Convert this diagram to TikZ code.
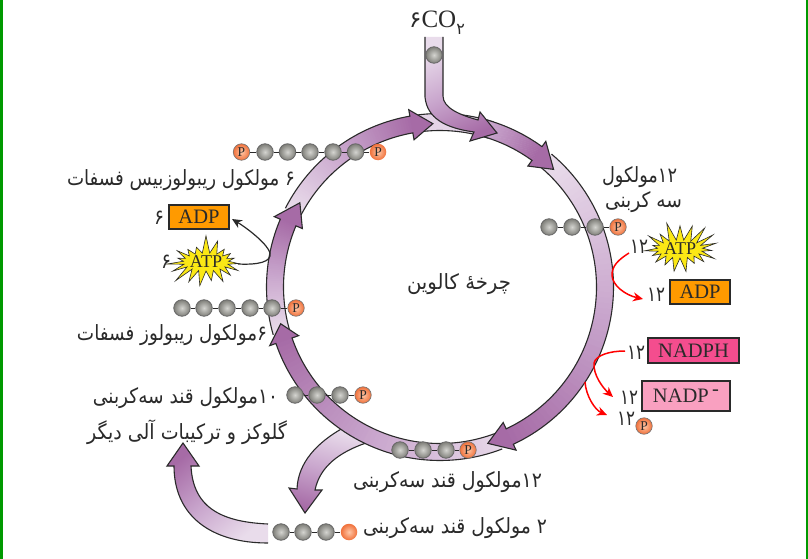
\documentclass[tikz,border=0pt]{standalone}
\usepackage{fontspec}
\usepackage{graphicx}
\usetikzlibrary{arrows.meta,shapes.symbols}
\setmainfont{Liberation Serif}
\TeXXeTstate=1
\newfontfamily\arabicfont[Script=Arabic]{DejaVu Sans}
\definecolor{lightv}{HTML}{E9DCEB}
\definecolor{midv}{HTML}{C9A6CD}
\definecolor{darkv}{HTML}{A66BA6}
\definecolor{ink}{HTML}{2A2A2A}
\definecolor{txt}{HTML}{2A2A2A}
\definecolor{pinka}{HTML}{F44D8E}
\definecolor{pinkb}{HTML}{F9A0C0}
\definecolor{orng}{HTML}{FF9A00}
\definecolor{yel}{HTML}{FBE815}
\definecolor{ballin}{HTML}{D4D4D0}
\definecolor{ballout}{HTML}{7E7E78}
\definecolor{pin}{HTML}{FFC8A8}
\definecolor{pout}{HTML}{F0703A}
\tikzset{
  ol/.style={draw=ink,line width=1.1pt,line join=miter},
  ballg/.style={circle,minimum size=16.5pt,inner sep=0pt,draw=black!60,line width=.8pt,inner color=ballin,outer color=ballout},
  pball/.style={circle,minimum size=16.5pt,inner sep=0pt,draw=black!55,line width=.6pt,inner color=pin,outer color=pout,font=\fontsize{13.5}{13.5}\selectfont,text=txt},
  pballb/.style={pball,draw=none},
  bond/.style={draw=ink,line width=.7pt},
  lab/.style={inner sep=0pt,text=txt},
  boxed/.style={draw=ink,line width=1.1pt,minimum height=24pt,inner sep=0pt,text=txt,font=\fontsize{20.5}{20.5}\selectfont},
  burst/.style={starburst,starburst points=19,starburst point height=19pt,draw=ink,line width=.6pt,fill=yel,inner sep=0pt,minimum width=60pt,minimum height=56pt,text=txt,font=\fontsize{18}{18}\selectfont},
  redarr/.style={draw=red,line width=1.5pt,-{Stealth[length=10pt,width=9pt]}},
  blackarr/.style={draw=ink,line width=1.2pt,-{Stealth[length=10pt,width=9pt]}},
}
\newcommand\fa[2]{\resizebox{#1pt}{\height}{\arabicfont\fontsize{21}{21}\selectfont #2}}
\newcommand\fb[2]{\resizebox{#1pt}{\height}{\arabicfont\fontsize{21}{21}\selectfont #2}}
\newcommand\ringarrow[4]{%
  \foreach \i in {0,...,59}{%
    \pgfmathsetmacro\aa{#1+(#2-#1)*\i/60}%
    \pgfmathsetmacro\ab{#1+(#2-#1)*(\i+1.4)/60}%
    \pgfmathsetmacro\tt{#4+(1-#4)*\i/60}%
    \pgfmathtruncatemacro\pa{min(100,\tt*200)}%
    \pgfmathtruncatemacro\pb{max(0,\tt*200-100)}%
    \ifnum\pb>0 \fill[darkv!\pb!midv] (\aa:173.5)--(\ab:173.5)--(\ab:156.5)--(\aa:156.5)--cycle;
    \else \fill[midv!\pa!lightv] (\aa:173.5)--(\ab:173.5)--(\ab:156.5)--(\aa:156.5)--cycle;\fi
  }%
  \fill[darkv] (#2:180)--(#3:163.5)--(#2:149.5)--cycle;
  \draw[ol] (#1:173.5) arc[start angle=#1,end angle=#2,radius=173.5]--(#2:180)--(#3:163.5)--(#2:149.5)--(#2:156.5) arc[start angle=#2,end angle=#1,radius=156.5];
}
\newcommand\molrow[3]{\foreach \x [count=\i,remember=\i as \j (initially 0)] in {#3}{\node[ballg] (#1\i) at (\x,#2) {};\ifnum\i>1 \draw[bond] (#1\j)--(#1\i);\fi}}
\begin{document}
\begin{tikzpicture}[x=1pt,y=-1pt]
\useasboundingbox (0,0) rectangle (808,559);
\fill[white] (0,0) rectangle (808,559);
\fill[green!60!black] (0,0) rectangle (2.5,559);
\fill[green!60!black] (805.5,0) rectangle (808,559);
% branch to lower arrow
\shadedraw[ol,top color=lightv,bottom color=darkv,middle color=midv,shading angle=-15]
  (343,428) .. controls (318,442) and (298,462) .. (297,489) -- (289,488) -- (305,513) -- (322,490) -- (315,490) .. controls (320,466) and (340,452) .. (366,443) -- cycle;
% light patch at top of ring
\begin{scope}[shift={(440,287)},y=1pt]
  \fill[lightv!85!midv] (100:173.5) arc[start angle=100,end angle=72,radius=173.5]--(72:156.5) arc[start angle=72,end angle=100,radius=156.5]--cycle;
  \draw[ol] (100:173.5) arc[start angle=100,end angle=72,radius=173.5];
  \draw[ol] (100:156.5) arc[start angle=100,end angle=72,radius=156.5];
  \ringarrow{153}{100}{92.5}{0}
  \ringarrow{196}{157}{149}{0}
  \ringarrow{291}{199}{193}{0.05}
  \ringarrow{50}{-65}{-73}{0}
  \ringarrow{75}{54}{46}{0.45}
\end{scope}
% CO2 inlet
\shade[top color=lightv,bottom color=darkv,middle color=midv,shading angle=25]
  (425,37) -- (425,97) .. controls (427,118) and (445,128) .. (474,132) -- (470,141) -- (497,133) -- (480,112) -- (478,120) .. controls (460,115) and (443,108) .. (443,96) -- (443,37) -- cycle;
\draw[ol] (425,37) -- (425,97) .. controls (427,118) and (445,128) .. (474,132) -- (470,141) -- (497,133) -- (480,112) -- (478,120) .. controls (460,115) and (443,108) .. (443,96) -- (443,37);
% output arrow
\shade[bottom color=lightv,top color=darkv,middle color=midv,shading angle=40]
  (268,524) .. controls (225,522) and (193,510) .. (191,466) -- (199,466) -- (183,443) -- (167,466) -- (174,466) .. controls (174,515) and (210,543) .. (268,543) -- cycle;
\draw[ol] (268,524) .. controls (225,522) and (193,510) .. (191,466) -- (199,466) -- (183,443) -- (167,466) -- (174,466) .. controls (174,515) and (210,543) .. (268,543);
% molecules
\node[ballg] (co) at (434,55) {};
\node[pball] (r1a) at (241.5,152) {P};
\molrow{r1b}{152}{265,287.5,310,333,355.5}
\node[pballb] (r1c) at (378,152) {P};
\draw[bond] (r1a)--(r1b1); \draw[bond] (r1b5)--(r1c);
\molrow{r2b}{227}{549,572,595}
\node[pball] (r2p) at (618,227) {P};
\draw[bond] (r2b3)--(r2p);
\molrow{r3b}{308}{182,204,227,250,272}
\node[pball] (r3p) at (296,308) {P};
\draw[bond] (r3b5)--(r3p);
\molrow{r4b}{395}{295,317,340}
\node[pball] (r4p) at (363,395) {P};
\draw[bond] (r4b3)--(r4p);
\molrow{r5b}{450}{400,423,446}
\node[pball] (r5p) at (468,450) {P};
\draw[bond] (r5b3)--(r5p);
\molrow{r6b}{532}{281,303,326}
\node[pballb] (r6p) at (349,532) {};
\draw[bond] (r6b3)--(r6p);
% boxes
\node[boxed,fill=orng,minimum width=60pt] (adpl) at (199,217) {ADP};
\node[boxed,fill=orng,minimum width=60pt] (adpr) at (700,292) {ADP};
\node[boxed,fill=pinka,minimum width=91pt,minimum height=25pt] (nadph) at (693.5,350.5) {NADPH};
\node[boxed,fill=pinkb,minimum width=88pt,minimum height=30pt] (nadp) at (686,396) {NADP\raisebox{7pt}{\,-}};
% bursts
\node[burst,random starburst=7] (atpl) at (206,262) {ATP};
\node[burst,random starburst=11] (atpr) at (680,249) {ATP};
% black arrow
\coordinate (bs) at (238,264);
\coordinate (bm) at (270,253);
\coordinate (be) at (232,219);
\draw[blackarr] (bs) .. controls (258,265) and (272,262) .. (bm) .. controls (268,245) and (250,230) .. (be);
% red arrows
\coordinate (a1) at (629,253); \coordinate (a2) at (612,275); \coordinate (a3) at (643,299);
\draw[redarr] (a1) .. controls (618,260) and (612,266) .. (a2) .. controls (612,285) and (625,295) .. (a3);
\coordinate (b1) at (625,351); \coordinate (b2) at (594,363); \coordinate (b3) at (613,397);
\draw[redarr] (b1) .. controls (610,351) and (596,355) .. (b2) .. controls (593,375) and (603,388) .. (b3);
\coordinate (c1) at (585,382); \coordinate (c3) at (607,415);
\draw[redarr] (c1) .. controls (586,396) and (595,410) .. (c3);
% P
\node[pball] (pp) at (644,426) {P};
% texts
\node[lab] (co2) at (437,23) {\arabicfont\fontsize{23}{23}\selectfont ۶\rmfamily\fontsize{25}{25}\selectfont CO\raisebox{-7pt}{\arabicfont\fontsize{16}{16}\selectfont ۲}};
\node[lab] (t1) at (181,180) {\fa{228}{\beginR ۶ مولکول ریبولوزبیس فسفات\endR}};
\node[lab] (t2) at (639.5,177) {\fa{75}{\beginR\beginL ۱۲\endL مولکول\endR}};
\node[lab] (t3) at (643.5,202) {\fa{77}{\beginR سه کربنی\endR}};
\node[lab] (n1) at (159,218) {\fb{10}{۶}};
\node[lab] (n2) at (166,262) {\fb{10}{۶}};
\node[lab] (t4) at (459,284) {\fa{104}{\beginR چرخهٔ کالوین\endR}};
\node[lab] (t5) at (172,335) {\fa{190}{\beginR ۶مولکول ریبولوز فسفات\endR}};
\node[lab] (t6) at (185.5,398) {\fa{185}{\beginR\beginL ۱۰\endL مولکول قند سه‌کربنی\endR}};
\node[lab] (t7) at (187,432) {\fa{200}{\beginR گلوکز و ترکیبات آلی دیگر\endR}};
\node[lab] (t8) at (447.5,482) {\fa{189}{\beginR\beginL ۱۲\endL مولکول قند سه‌کربنی\endR}};
\node[lab] (t9) at (455,528) {\fa{184}{\beginR ۲ مولکول قند سه‌کربنی\endR}};
\node[lab] (n3) at (639,247) {\fb{18}{۱۲}};
\node[lab] (n4) at (656,295) {\fb{18}{۱۲}};
\node[lab] (n5) at (636,353) {\fb{18}{۱۲}};
\node[lab] (n6) at (629,398) {\fb{18}{۱۲}};
\node[lab] (n7) at (626,419) {\fb{18}{۱۲}};
\end{tikzpicture}
\end{document}
